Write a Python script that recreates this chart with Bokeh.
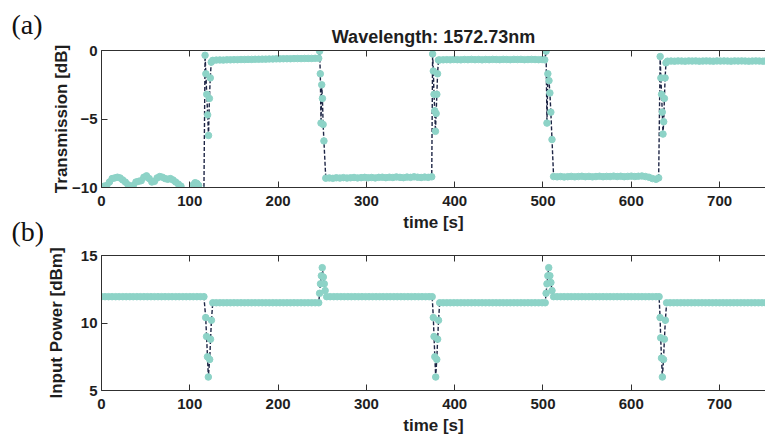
from bokeh.plotting import figure
from bokeh.models import Range1d, LinearAxis, FixedTicker, Label, ColumnDataSource
from bokeh.layouts import column, row
from bokeh.embed import file_html
from bokeh.resources import INLINE

# ---------------- data (time [s], value) ----------------
x_ticks = [0, 100, 200, 300, 400, 500, 600, 700]
trans_ticks = [-10, -5, 0]
power_ticks = [5, 10, 15]
panel_tags = ["(a)", "(b)"]

# (a) Transmission [dB]
tx_low_1 = [(0, -9.95), (3, -9.9), (6, -9.85), (9, -9.6), (12, -9.35), (15, -9.3), (18, -9.25),
            (21, -9.3), (24, -9.45), (27, -9.6), (30, -9.8), (33, -9.95), (36, -9.85), (39, -9.6),
            (42, -9.55), (45, -9.5), (48, -9.25), (51, -9.15), (54, -9.35), (57, -9.6), (60, -9.55),
            (63, -9.3), (66, -9.2), (69, -9.25), (72, -9.35), (75, -9.4), (78, -9.35), (81, -9.45),
            (84, -9.6), (87, -9.75), (90, -9.9), (93, -10.4), (97, -10.6), (101, -10.4), (104, -9.8),
            (106, -9.65), (108, -9.7), (110, -9.85), (113, -10.3), (116, -10.2)]
tx_up_1 = [(117.3, -0.35), (118.2, -1.7), (119.2, -3.2), (120.2, -4.7), (121.2, -6.2),
           (122.2, -3.5), (123.2, -2.0), (124.3, -0.85)]
tx_high_1 = [(126, -0.72), (130, -0.70), (134, -0.69), (138, -0.70), (142, -0.68), (146, -0.68),
             (150, -0.67), (154, -0.67), (158, -0.66), (162, -0.66), (166, -0.65), (170, -0.65),
             (174, -0.64), (178, -0.64), (182, -0.63), (186, -0.63), (190, -0.62), (194, -0.62),
             (198, -0.61), (202, -0.61), (206, -0.60), (210, -0.60), (214, -0.60), (218, -0.59),
             (222, -0.59), (226, -0.59), (230, -0.58), (234, -0.58), (238, -0.58), (242, -0.57),
             (246, -0.57)]
tx_down_1 = [(247.0, -0.05), (247.8, -1.7), (248.6, -5.3), (249.4, -2.5), (250.2, -3.5),
             (251.0, -5.4), (251.9, -6.6)]
tx_low_2 = [(254, -9.32), (258, -9.30), (262, -9.33), (266, -9.29), (270, -9.31), (274, -9.28),
            (278, -9.31), (282, -9.29), (286, -9.27), (290, -9.30), (294, -9.28), (298, -9.26),
            (302, -9.29), (306, -9.27), (310, -9.30), (314, -9.26), (318, -9.25), (322, -9.28),
            (326, -9.25), (330, -9.27), (334, -9.23), (338, -9.26), (342, -9.28), (346, -9.24),
            (350, -9.26), (354, -9.22), (358, -9.25), (362, -9.27), (366, -9.24), (370, -9.26),
            (374, -9.22)]
tx_up_2 = [(375.0, -0.25), (375.8, -1.5), (376.6, -3.2), (377.4, -4.4), (378.2, -5.9),
           (379.0, -4.6), (379.8, -3.2), (380.6, -1.7), (381.6, -0.7)]
tx_high_2 = [(383, -0.69), (387, -0.68), (391, -0.67), (395, -0.68), (399, -0.66), (403, -0.67),
             (407, -0.68), (411, -0.66), (415, -0.67), (419, -0.65), (423, -0.67), (427, -0.66),
             (431, -0.68), (435, -0.66), (439, -0.67), (443, -0.65), (447, -0.66), (451, -0.67),
             (455, -0.65), (459, -0.66), (463, -0.67), (467, -0.65), (471, -0.66), (475, -0.65),
             (479, -0.67), (483, -0.66), (487, -0.65), (491, -0.66), (495, -0.67), (499, -0.66),
             (502, -0.68)]
tx_down_2 = [(503.5, -0.05), (504.5, -5.3), (505.5, -1.7), (506.8, -2.2), (507.8, -3.1),
             (508.9, -4.5), (510.2, -6.5)]
tx_low_3 = [(512, -9.20), (516, -9.22), (520, -9.20), (524, -9.23), (528, -9.21), (532, -9.19),
            (536, -9.22), (540, -9.20), (544, -9.18), (548, -9.21), (552, -9.19), (556, -9.22),
            (560, -9.20), (564, -9.18), (568, -9.21), (572, -9.19), (576, -9.20), (580, -9.17),
            (584, -9.20), (588, -9.18), (592, -9.21), (596, -9.19), (600, -9.17), (604, -9.20),
            (608, -9.18), (612, -9.16), (616, -9.20), (620, -9.25), (624, -9.35), (628, -9.40),
            (631, -9.30)]
tx_up_3 = [(632.7, -0.44), (633.5, -2.0), (634.3, -3.2), (635.1, -4.5), (635.9, -6.1),
           (636.7, -5.2), (637.5, -3.5), (638.3, -2.0), (639.3, -0.9)]
tx_high_3 = [(641, -0.78), (645, -0.77), (649, -0.78), (653, -0.76), (657, -0.77), (661, -0.78),
             (665, -0.76), (669, -0.77), (673, -0.76), (677, -0.78), (681, -0.77), (685, -0.76),
             (689, -0.77), (693, -0.78), (697, -0.76), (701, -0.77), (705, -0.76), (709, -0.77),
             (713, -0.78), (717, -0.76), (721, -0.77), (725, -0.76), (729, -0.77), (733, -0.78),
             (737, -0.77), (741, -0.76), (745, -0.77), (749, -0.78), (752, -0.77)]

# (b) Input Power [dBm]
pw_1 = [(0, 11.95), (4, 11.95), (8, 11.95), (12, 11.95), (16, 11.95), (20, 11.95), (24, 11.95),
        (28, 11.95), (32, 11.95), (36, 11.95), (40, 11.95), (44, 11.95), (48, 11.95), (52, 11.95),
        (56, 11.95), (60, 11.95), (64, 11.95), (68, 11.95), (72, 11.95), (76, 11.95), (80, 11.95),
        (84, 11.95), (88, 11.95), (92, 11.95), (96, 11.95), (100, 11.95), (104, 11.95),
        (108, 11.95), (112, 11.95), (116, 11.95)]
pw_dip_1 = [(118, 10.4), (119, 9.0), (120, 7.5), (121, 6.0), (122.5, 7.3), (123.5, 8.8),
            (124.5, 10.2)]
pw_2 = [(126, 11.5), (130, 11.5), (134, 11.5), (138, 11.5), (142, 11.5), (146, 11.5), (150, 11.5),
        (154, 11.5), (158, 11.5), (162, 11.5), (166, 11.5), (170, 11.5), (174, 11.5), (178, 11.5),
        (182, 11.5), (186, 11.5), (190, 11.5), (194, 11.5), (198, 11.5), (202, 11.5), (206, 11.5),
        (210, 11.5), (214, 11.5), (218, 11.5), (222, 11.5), (226, 11.5), (230, 11.5), (234, 11.5),
        (238, 11.5), (242, 11.5), (246, 11.5)]
pw_peak_1 = [(247, 12.2), (248, 12.9), (249, 13.5), (250, 14.1), (251.2, 13.4), (252.3, 12.9),
             (253.3, 12.4)]
pw_3 = [(255, 11.95), (259, 11.95), (263, 11.95), (267, 11.95), (271, 11.95), (275, 11.95),
        (279, 11.95), (283, 11.95), (287, 11.95), (291, 11.95), (295, 11.95), (299, 11.95),
        (303, 11.95), (307, 11.95), (311, 11.95), (315, 11.95), (319, 11.95), (323, 11.95),
        (327, 11.95), (331, 11.95), (335, 11.95), (339, 11.95), (343, 11.95), (347, 11.95),
        (351, 11.95), (355, 11.95), (359, 11.95), (363, 11.95), (367, 11.95), (371, 11.95),
        (374.5, 11.95)]
pw_dip_2 = [(375.8, 10.4), (376.6, 9.0), (377.5, 7.5), (378.5, 6.0), (379.7, 7.3), (380.7, 8.8),
            (381.7, 10.2)]
pw_4 = [(383, 11.5), (387, 11.5), (391, 11.5), (395, 11.5), (399, 11.5), (403, 11.5), (407, 11.5),
        (411, 11.5), (415, 11.5), (419, 11.5), (423, 11.5), (427, 11.5), (431, 11.5), (435, 11.5),
        (439, 11.5), (443, 11.5), (447, 11.5), (451, 11.5), (455, 11.5), (459, 11.5), (463, 11.5),
        (467, 11.5), (471, 11.5), (475, 11.5), (479, 11.5), (483, 11.5), (487, 11.5), (491, 11.5),
        (495, 11.5), (499, 11.5), (502.5, 11.5)]
pw_peak_2 = [(503.5, 12.2), (504.5, 12.9), (505.5, 13.5), (506.5, 14.1), (507.8, 13.5),
             (509.0, 13.0), (510.2, 12.4)]
pw_5 = [(512, 11.95), (516, 11.95), (520, 11.95), (524, 11.95), (528, 11.95), (532, 11.95),
        (536, 11.95), (540, 11.95), (544, 11.95), (548, 11.95), (552, 11.95), (556, 11.95),
        (560, 11.95), (564, 11.95), (568, 11.95), (572, 11.95), (576, 11.95), (580, 11.95),
        (584, 11.95), (588, 11.95), (592, 11.95), (596, 11.95), (600, 11.95), (604, 11.95),
        (608, 11.95), (612, 11.95), (616, 11.95), (620, 11.95), (624, 11.95), (628, 11.95),
        (631.5, 11.95)]
pw_dip_3 = [(632.6, 10.4), (633.3, 8.9), (634.2, 7.4), (635.2, 6.0), (636.5, 7.3), (637.5, 8.8),
            (638.6, 10.2)]
pw_6 = [(640, 11.5), (644, 11.5), (648, 11.5), (652, 11.5), (656, 11.5), (660, 11.5), (664, 11.5),
        (668, 11.5), (672, 11.5), (676, 11.5), (680, 11.5), (684, 11.5), (688, 11.5), (692, 11.5),
        (696, 11.5), (700, 11.5), (704, 11.5), (708, 11.5), (712, 11.5), (716, 11.5), (720, 11.5),
        (724, 11.5), (728, 11.5), (732, 11.5), (736, 11.5), (740, 11.5), (744, 11.5), (748, 11.5),
        (752, 11.5)]

trans_pairs = (tx_low_1 + tx_up_1 + tx_high_1 + tx_down_1 + tx_low_2 + tx_up_2 + tx_high_2
               + tx_down_2 + tx_low_3 + tx_up_3 + tx_high_3)
power_pairs = (pw_1 + pw_dip_1 + pw_2 + pw_peak_1 + pw_3 + pw_dip_2 + pw_4 + pw_peak_2 + pw_5
               + pw_dip_3 + pw_6)

trans_src = ColumnDataSource(dict(t=[a for a, b in trans_pairs], v=[b for a, b in trans_pairs]))
power_src = ColumnDataSource(dict(t=[a for a, b in power_pairs], v=[b for a, b in power_pairs]))

# ---------------- style ----------------
FONT = "Liberation Sans"
INK = "#1e1e1e"
AXC = "#303030"
MARK = "#8dd3c7"
LINEC = "#1d2545"
STRIP_W = 43
W = 765 - STRIP_W
X_END = 752


def style_axis(ax, label_size="15px"):
    ax.axis_line_color = AXC
    ax.axis_line_width = 1
    ax.major_tick_line_color = AXC
    ax.major_tick_in = 6
    ax.major_tick_out = 0
    ax.minor_tick_line_color = None
    ax.major_label_text_font = FONT
    ax.major_label_text_font_style = "bold"
    ax.major_label_text_font_size = label_size
    ax.major_label_text_color = INK
    ax.axis_label_text_font = FONT
    ax.axis_label_text_font_style = "bold"
    ax.axis_label_text_font_size = "17px"
    ax.axis_label_text_color = INK


def make_fig(height, top, bottom, y0, y1, yticks, ylabel, ylab_standoff, title=None):
    p = figure(width=W, height=height, output_backend="svg", toolbar_location=None,
               x_range=Range1d(0, X_END), y_range=Range1d(y0, y1),
               min_border_left=101 - STRIP_W, min_border_right=0, min_border_top=top,
               min_border_bottom=bottom, title=title)
    p.outline_line_color = None
    p.grid.visible = False
    p.background_fill_color = "white"
    p.border_fill_color = "white"
    p.xaxis.ticker = FixedTicker(ticks=x_ticks)
    p.yaxis.ticker = FixedTicker(ticks=yticks)
    p.xaxis.axis_label = "time [s]"
    p.yaxis.axis_label = ylabel
    for ax in p.xaxis + p.yaxis:
        style_axis(ax)
    p.xaxis.major_label_standoff = 8
    p.xaxis.axis_label_standoff = 4
    p.yaxis.major_label_standoff = 4
    p.yaxis.axis_label_standoff = ylab_standoff
    top_ax = LinearAxis(ticker=FixedTicker(ticks=x_ticks))
    style_axis(top_ax, "0px")
    top_ax.major_label_text_color = None
    top_ax.major_label_standoff = 0
    p.add_layout(top_ax, "above")
    if title is not None:
        p.title.text_font = FONT
        p.title.text_font_style = "bold"
        p.title.text_font_size = "18px"
        p.title.text_color = INK
        p.title.align = "center"
        p.title.standoff = 8
    return p


p1 = make_fig(244, 50, 57, -10, 0, trans_ticks, "Transmission [dB]", -2,
              title="Wavelength: 1572.73nm")
p1.line("t", "v", source=trans_src, line_color=LINEC, line_width=1.4, line_dash="4 2")
p1.scatter("t", "v", source=trans_src, size=6.5, fill_color=MARK, line_color=MARK)

p2 = make_fig(196, 11, 50, 5, 15, power_ticks, "Input Power [dBm]", 12)
p2.line("t", "v", source=power_src, line_color=LINEC, line_width=1.4, line_dash="4 2")
p2.scatter("t", "v", source=power_src, size=6.5, fill_color=MARK, line_color=MARK)

# left strip holding the panel tags "(a)" and "(b)"
strip = figure(width=STRIP_W, height=440, output_backend="svg", toolbar_location=None,
               x_range=Range1d(0, STRIP_W), y_range=Range1d(0, 440),
               min_border=0, x_axis_type=None, y_axis_type=None)
strip.outline_line_color = None
strip.grid.visible = False
for tag, ytop in zip(panel_tags, (432, 225)):
    strip.add_layout(Label(x=11, y=ytop, text=tag, text_font="Liberation Serif",
                           text_font_size="28px", text_color="#111111", text_baseline="top",
                           text_align="left"))

page = row(strip, column(p1, p2, spacing=0), spacing=0)
open("out.html", "w").write(file_html(page, INLINE))
